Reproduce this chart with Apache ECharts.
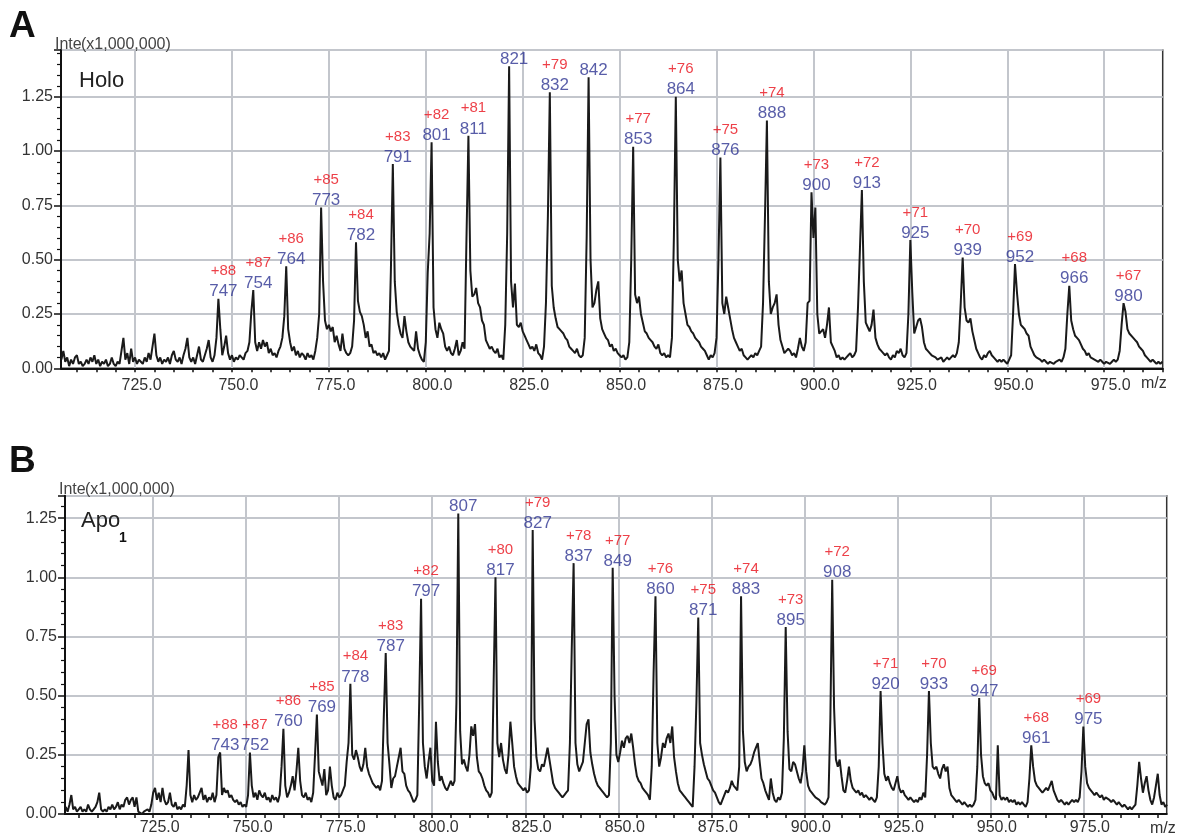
<!DOCTYPE html>
<html><head><meta charset="utf-8">
<script src="https://cdn.jsdelivr.net/npm/echarts@6/dist/echarts.min.js"></script>
<style>html,body{margin:0;padding:0;background:#fff}#c{width:1178px;height:838px}</style>
</head><body><div id="c"></div>
<script>
// x-axis tick labels (m/z)
const xTicks = [725, 750, 775, 800, 825, 850, 875, 900, 925, 950, 975];
// small x-axis ticks every 5 m/z
const xMinorA = [710,715,720,725,730,735,740,745,750,755,760,765,770,775,780,785,790,795,800,805,810,815,820,825,830,835,840,845,850,855,860,865,870,875,880,885,890,895,900,905,910,915,920,925,930,935,940,945,950,955,960,965,970,975,980,985,990];
const xMinorB = [705,710,715,720,725,730,735,740,745,750,755,760,765,770,775,780,785,790,795,800,805,810,815,820,825,830,835,840,845,850,855,860,865,870,875,880,885,890,895,900,905,910,915,920,925,930,935,940,945,950,955,960,965,970,975,980,985,990,995];

// Panel A (Holo): intensity samples in units of 0.01 (x1,000,000), sampled every 0.5 m/z from 706.0
const startA = 706.0, stepA = 0.5;
const intensityA = [
  4,8,3,5,1,4,2,5,6,2,3,1,2,4,2,5,3,6,2,4,
  1,3,2,4,1,2,5,2,1,3,2,8,14,4,7,2,9,3,5,2,
  4,3,2,5,3,7,4,10,16,6,3,5,2,4,3,5,2,6,8,4,
  3,5,2,6,9,14,5,3,5,2,6,10,4,3,6,9,13,5,3,6,
  14,32,18,6,10,15,7,4,6,3,5,4,6,5,4,7,8,12,26,36,
  12,8,12,9,13,10,12,7,9,6,7,5,8,10,14,24,47,18,12,8,
  10,6,8,5,7,6,4,7,5,6,4,8,14,25,74,40,22,18,20,17,
  19,12,15,11,8,16,9,7,6,7,10,22,58,31,26,24,20,14,17,10,
  11,7,8,6,7,5,7,4,6,8,45,94,40,26,20,16,14,24,17,12,
  10,9,8,17,9,6,4,3,12,44,62,104,28,18,14,21,18,16,10,8,
  10,7,6,9,13,6,8,12,9,60,107,45,33,34,37,30,28,22,20,13,
  11,9,10,8,7,9,5,6,4,20,62,139,40,28,39,20,19,21,17,15,
  13,11,9,10,8,11,7,6,4,10,30,70,127,38,28,23,19,18,17,16,
  14,13,10,9,8,7,9,6,5,6,14,60,134,50,28,30,36,40,23,18,
  16,14,13,10,11,8,9,7,6,5,6,4,5,12,50,102,34,30,33,25,
  21,17,16,14,13,12,10,9,11,7,6,7,5,6,5,14,60,125,50,40,
  45,30,25,20,19,17,16,14,13,12,10,9,8,6,4,6,5,7,14,50,
  97,30,25,33,28,23,18,14,12,10,8,9,6,5,4,5,6,5,7,6,
  8,10,30,70,114,40,25,28,30,34,20,13,10,7,8,9,8,6,7,5,
  9,14,10,8,12,30,31,81,60,74,25,16,17,18,14,20,28,12,10,8,
  5,6,4,5,4,5,6,7,5,6,8,28,55,82,40,21,19,17,20,27,
  14,11,9,8,7,6,7,5,4,6,5,8,7,9,6,5,7,25,59,35,
  16,19,22,23,19,12,9,8,7,6,6,5,4,4,5,3,4,5,4,5,
  6,5,7,12,30,51,28,22,21,23,17,13,9,7,5,4,6,5,7,8,
  6,5,4,3,4,3,4,3,2,4,6,25,48,35,25,20,19,18,16,15,
  10,8,6,5,5,4,3,4,3,2,3,3,2,3,3,4,3,5,9,25,
  38,22,18,15,14,13,11,9,8,6,7,5,5,4,4,3,4,3,2,3,
  3,2,3,4,3,4,8,20,30,26,18,16,16,14,13,12,10,9,8,6,
  5,4,3,4,3,2,3,2,3
];
const peakMzA = [746.5,755.5,764,773,782,791.5,801.5,811,821.5,832,842,853.5,864.5,876,888,899.5,912.5,925,938.5,952,966,980];
const peakTextA = ['747','754','764','773','782','791','801','811','821','832','842','853','864','876','888','900','913','925','939','952','966','980'];
const chargeA = ['+88','+87','+86','+85','+84','+83','+82','+81','','+79','','+77','+76','+75','+74','+73','+72','+71','+70','+69','+68','+67'];

// Panel B (Apo1): intensity samples in units of 0.01 (x1,000,000), every 0.5 m/z from 701.5
const startB = 701.5, stepB = 0.5;
const intensityB = [
  3,1,4,8,2,3,1,2,3,1,2,1,4,2,1,2,3,5,9,2,
  1,2,1,3,2,4,2,3,5,2,4,3,6,7,4,6,7,3,7,1,
  1,0,1,1,2,1,4,9,11,6,9,5,11,6,4,5,9,4,3,5,
  2,3,2,4,3,12,27,8,5,8,6,7,9,11,6,8,5,7,6,9,
  5,8,24,26,8,11,9,10,7,8,6,5,6,4,5,3,4,3,8,26,
  12,7,9,6,10,8,7,9,6,7,5,8,6,7,5,8,20,36,12,7,
  9,12,16,10,18,28,14,8,7,9,6,7,5,9,25,42,18,15,12,19,
  8,10,20,12,7,6,9,7,8,10,12,22,30,55,25,23,27,24,20,18,
  21,28,20,17,15,13,12,11,12,10,14,42,68,30,21,11,15,16,20,24,
  28,18,17,12,10,9,7,5,6,8,47,91,30,20,15,22,28,14,12,39,
  22,14,16,13,11,10,12,14,12,14,47,127,35,21,23,20,18,25,37,33,
  38,24,18,17,15,12,10,9,7,9,55,100,30,24,30,23,19,17,25,39,
  30,20,16,13,12,11,10,11,9,10,20,120,40,24,19,18,21,20,24,28,
  28,18,13,11,10,9,8,7,8,9,10,30,70,106,30,21,18,18,22,30,
  38,40,26,21,17,14,12,11,10,9,8,7,8,30,104,50,25,22,26,31,
  28,32,33,30,34,28,21,16,14,13,11,10,9,8,6,20,60,92,30,20,
  24,30,28,32,34,30,37,24,18,13,10,9,8,7,6,5,4,3,20,47,
  83,30,25,21,18,15,14,12,10,9,7,5,4,6,8,10,9,11,14,12,
  11,10,20,92,35,22,18,20,21,23,26,28,30,22,15,13,10,8,6,15,
  9,6,5,7,6,9,32,79,35,19,18,22,21,21,15,13,18,29,18,12,
  10,9,8,7,7,6,5,5,4,5,7,40,99,45,23,20,23,16,10,9,
  14,20,14,11,10,9,10,8,9,7,8,7,6,7,6,5,7,20,52,30,
  17,14,16,13,11,10,13,16,11,9,10,8,7,6,7,6,5,6,5,7,
  6,9,7,25,52,30,20,19,20,17,15,19,21,18,20,11,8,7,6,5,
  6,5,4,5,4,3,4,3,4,6,20,49,25,16,13,12,13,10,9,7,
  6,29,8,6,7,6,7,5,6,5,6,4,5,4,5,4,3,5,15,29,
  20,14,12,11,10,9,10,11,10,12,14,10,8,6,5,6,5,4,5,4,
  5,6,5,6,5,7,18,37,20,13,11,10,9,8,9,8,7,8,6,7,
  7,6,5,6,5,4,5,4,3,4,3,2,3,2,3,4,12,22,15,9,
  13,16,10,6,4,7,12,17,8,4,5,3,4
];
const peakMzB = [743,751,760,769,778,787.5,797,807,817,827,838,848.5,860,871.5,883,895,907.5,920.5,933.5,947,961,975];
const peakTextB = ['743','752','760','769','778','787','797','807','817','827','837','849','860','871','883','895','908','920','933','947','961','975'];
const chargeB = ['+88','+87','+86','+85','+84','+83','+82','','+80','+79','+78','+77','+76','+75','+74','+73','+72','+71','+70','+69','+68','+69'];

const F = "'Liberation Sans', Arial, Helvetica, sans-serif";
const GRIDC = '#c3c6cc';

function spectrum(start, step, arr) {
  return arr.map((v, i) => [start + i * step, v / 100]);
}
function annotations(start, step, arr, mzs, texts, charges) {
  return mzs.map((m, i) => {
    const idx = Math.round((m - start) / step);
    const txt = charges[i] ? '{c|' + charges[i] + '}\n{m|' + texts[i] + '}' : '{m|' + texts[i] + '}';
    return { value: [m, arr[idx] / 100], label: { formatter: txt } };
  });
}
function xAxisCfg(gi, min, max, margin) {
  return {
    gridIndex: gi, type: 'value', min: min, max: max, position: 'bottom',
    axisLine: { show: true, onZero: false, lineStyle: { color: '#111', width: 2 } },
    axisTick: { show: false, customValues: xTicks },
    axisLabel: { customValues: xTicks, color: '#333', fontSize: 16, fontFamily: F, margin: margin,
      padding: [0, 0, 0, 13], formatter: v => v.toFixed(1) },
    splitLine: { show: true, lineStyle: { color: GRIDC, width: 2 } }
  };
}
function xMinorAxisCfg(gi, min, max, ticks) {
  return {
    gridIndex: gi, type: 'value', min: min, max: max, position: 'bottom', offset: 0,
    axisLine: { show: false, onZero: false },
    axisTick: { show: true, customValues: ticks, length: 4, lineStyle: { color: '#111', width: 1.5 } },
    axisLabel: { show: false },
    splitLine: { show: false }
  };
}
function yAxisCfg(gi, max) {
  return {
    gridIndex: gi, type: 'value', min: 0, max: max, interval: 0.25,
    axisLine: { show: true, lineStyle: { color: '#111', width: 2 } },
    axisTick: { show: true, length: 7, lineStyle: { color: '#111', width: 1.5 } },
    minorTick: { show: true, splitNumber: 5, length: 4, lineStyle: { color: '#111', width: 1.2 } },
    axisLabel: { color: '#333', fontSize: 16, fontFamily: F, margin: 8, showMaxLabel: false,
      formatter: v => v.toFixed(2) },
    splitLine: { show: true, lineStyle: { color: GRIDC, width: 2 } }
  };
}
const labelCfg = {
  show: true, position: 'top', distance: 0, offset: [5, 4],
  rich: {
    c: { color: '#e8101a', fontSize: 15, fontFamily: F, lineHeight: 20 },
    m: { color: '#2e3592', fontSize: 17, fontFamily: F, lineHeight: 21 }
  }
};
function lineSeries(xi, data) {
  return { type: 'line', xAxisIndex: xi, yAxisIndex: xi, data: data, showSymbol: false, symbol: 'none',
    lineStyle: { color: '#1a1a1a', width: 2 }, clip: true, silent: true, z: 3 };
}
function labelSeries(xi, data) {
  return { type: 'scatter', xAxisIndex: xi, yAxisIndex: xi, data: data, symbolSize: 1,
    itemStyle: { color: 'rgba(0,0,0,0)' }, label: labelCfg, silent: true, z: 5 };
}
function txt(text, x, y, size, opts) {
  return { type: 'text', x: x, y: y, z: 10, silent: true,
    style: Object.assign({ text: text, fontSize: size, fontFamily: F, fill: '#333',
      verticalAlign: 'middle', align: 'left' }, opts || {}) };
}

const chart = echarts.init(document.getElementById('c'), null, { renderer: 'canvas' });
chart.setOption({
  animation: false,
  backgroundColor: '#fff',
  grid: [
    { left: 61, top: 50, width: 1101.7, height: 318.3, show: true, borderColor: '#333', borderWidth: 1.5 },
    { left: 65, top: 495.7, width: 1101.7, height: 318.3, show: true, borderColor: '#333', borderWidth: 1.5 }
  ],
  xAxis: [
    xAxisCfg(0, 705.9, 990.1, 9), xAxisCfg(1, 701.3, 997.4, 6),
    xMinorAxisCfg(0, 705.9, 990.1, xMinorA), xMinorAxisCfg(1, 701.3, 997.4, xMinorB)
  ],
  yAxis: [yAxisCfg(0, 1.465), yAxisCfg(1, 1.345)],
  series: [
    lineSeries(0, spectrum(startA, stepA, intensityA)),
    lineSeries(1, spectrum(startB, stepB, intensityB)),
    labelSeries(0, annotations(startA, stepA, intensityA, peakMzA, peakTextA, chargeA)),
    labelSeries(1, annotations(startB, stepB, intensityB, peakMzB, peakTextB, chargeB))
  ],
  graphic: [
    txt('A', 9, 27, 37, { fontWeight: 'bold', fill: '#111' }),
    txt('B', 9, 462, 37, { fontWeight: 'bold', fill: '#111' }),
    txt('Inte', 55, 45, 16, { fill: '#444' }),
    txt('(x1,000,000)', 81, 45, 16, { fill: '#444' }),
    txt('Inte', 59, 490, 16, { fill: '#444' }),
    txt('(x1,000,000)', 85, 490, 16, { fill: '#444' }),
    txt('Holo', 79, 81, 22, { fill: '#222' }),
    txt('Apo', 81, 521, 22, { fill: '#222' }),
    txt('1', 119, 538, 14, { fontWeight: 'bold', fill: '#111' }),
    txt('m/z', 1141, 384, 16, { fill: '#333' }),
    txt('m/z', 1150, 829, 16, { fill: '#333' })
  ]
});
</script>
</body></html>
